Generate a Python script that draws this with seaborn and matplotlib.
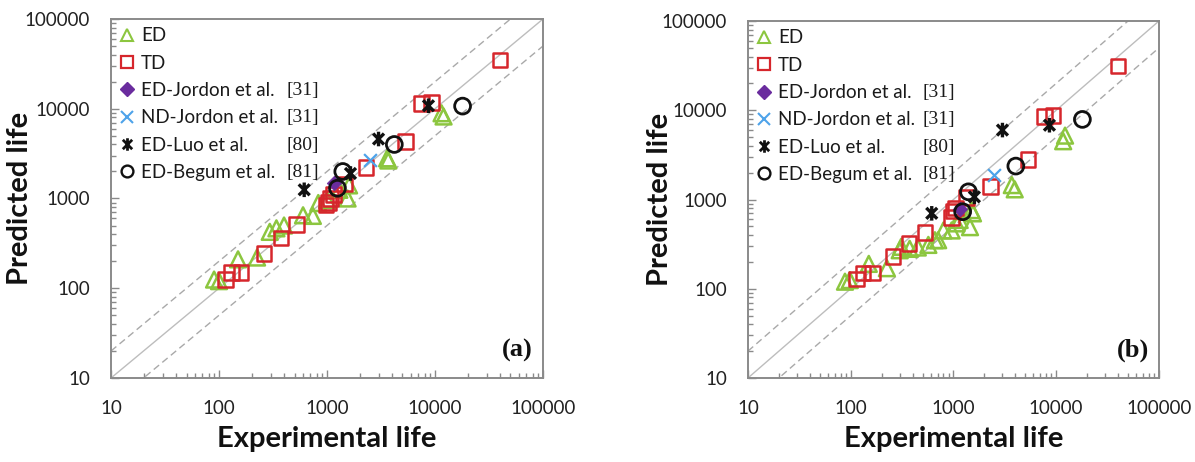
import numpy as np
import pandas as pd
import matplotlib
matplotlib.use("Agg")
import matplotlib.pyplot as plt
import seaborn as sns
from matplotlib.ticker import FixedLocator, LogLocator, FuncFormatter, NullFormatter
from matplotlib.lines import Line2D
from matplotlib.path import Path

sns.set_theme(style="white")
plt.rcParams["font.family"] = ["Lato", "DejaVu Sans"]

# ---- series labels ----
series_labels = ["ED", "TD", "ED-Jordon et al.", "ND-Jordon et al.", "ED-Luo et al.", "ED-Begum et al."]
series_refs = ["", "", "[31]", "[31]", "[80]", "[81]"]
panel_tags = ["(a)", "(b)"]
axis_ticks = [10, 100, 1000, 10000, 100000]

# ---- panel (a) ----
a_ed_exp = [90, 100, 150, 225, 295, 340, 400, 600, 740, 830, 1000, 1300, 1550, 1600, 3600, 3700, 11500, 12000]
a_ed_pred = [125, 120, 210, 220, 425, 465, 500, 650, 640, 890, 960, 1250, 1000, 1400, 2800, 2650, 8900, 8200]
a_td_exp = [115, 130, 160, 260, 375, 520, 980, 1030, 1080, 1150, 1450, 2300, 5300, 7500, 9300, 40000]
a_td_pred = [125, 150, 150, 245, 365, 515, 850, 900, 1000, 1100, 1450, 2200, 4300, 11500, 11700, 35000]
a_edj_exp = [1150]
a_edj_pred = [1500]
a_ndj_exp = [2500]
a_ndj_pred = [2700]
a_luo_exp = [615, 1650, 3000, 8700]
a_luo_pred = [1250, 1900, 4600, 10800]
a_beg_exp = [1250, 1400, 4200, 18000]
a_beg_pred = [1300, 2000, 4000, 10700]

# ---- panel (b) ----
b_ed_exp = [88, 98, 150, 225, 300, 310, 375, 450, 570, 660, 710, 800, 960, 1070, 1150, 1450, 1550, 1500, 3700, 3950, 11700, 12200]
b_ed_pred = [120, 125, 190, 170, 270, 295, 280, 290, 310, 350, 350, 450, 450, 540, 590, 490, 700, 760, 1450, 1300, 4500, 5200]
b_td_exp = [114, 132, 163, 259, 371, 527, 960, 990, 1050, 1340, 2300, 5300, 7700, 9300, 40000]
b_td_pred = [128, 150, 150, 230, 320, 425, 625, 740, 800, 1050, 1400, 2800, 8500, 8800, 31500]
b_edj_exp = [1150]
b_edj_pred = [780]
b_ndj_exp = [2500]
b_ndj_pred = [1900]
b_luo_exp = [615, 1600, 3000, 8600]
b_luo_pred = [700, 1070, 6000, 6800]
b_beg_exp = [1230, 1400, 4050, 18000]
b_beg_pred = [730, 1220, 2370, 7900]

panels = [
    [(a_ed_exp, a_ed_pred), (a_td_exp, a_td_pred), (a_edj_exp, a_edj_pred),
     (a_ndj_exp, a_ndj_pred), (a_luo_exp, a_luo_pred), (a_beg_exp, a_beg_pred)],
    [(b_ed_exp, b_ed_pred), (b_td_exp, b_td_pred), (b_edj_exp, b_edj_pred),
     (b_ndj_exp, b_ndj_pred), (b_luo_exp, b_luo_pred), (b_beg_exp, b_beg_pred)],
]

GREEN = "#8cc63f"
RED = "#d6262c"
PURPLE = "#6a2c9e"
LBLUE = "#4ea3ea"
BLACK = "#111111"

# star marker: an X crossed by a vertical bar
STAR = Path(
    [(0, -1), (0, 1), (-0.75, -0.75), (0.75, 0.75), (-0.75, 0.75), (0.75, -0.75)],
    [Path.MOVETO, Path.LINETO, Path.MOVETO, Path.LINETO, Path.MOVETO, Path.LINETO],
)

# marker styles for each series
styles = [
    dict(marker="^", s=130, facecolor="none", edgecolor=GREEN, linewidth=1.8),
    dict(marker="s", s=110, facecolor="none", edgecolor=RED, linewidth=1.8),
    dict(marker="D", s=55, color=PURPLE, edgecolor=PURPLE, linewidth=0.5),
    dict(marker="x", s=85, color=LBLUE, linewidth=1.6),
    dict(marker=STAR, s=110, facecolor="none", edgecolor=BLACK, linewidth=2.4),
    dict(marker="o", s=130, facecolor="none", edgecolor=BLACK, linewidth=2.0),
]
legend_handles = [
    Line2D([], [], ls="none", marker="^", ms=8.5, mfc="none", mec=GREEN, mew=1.5),
    Line2D([], [], ls="none", marker="s", ms=8, mfc="none", mec=RED, mew=1.6),
    Line2D([], [], ls="none", marker="D", ms=7, mfc=PURPLE, mec=PURPLE),
    Line2D([], [], ls="none", marker="x", ms=8, mec=LBLUE, mew=1.5),
    Line2D([], [], ls="none", marker=STAR, ms=9, mfc="none", mec=BLACK, mew=2.0),
    Line2D([], [], ls="none", marker="o", ms=8.5, mfc="none", mec=BLACK, mew=1.7),
]

fig = plt.figure(figsize=(11.95, 4.62), dpi=100)
positions = [[0.0929, 0.1818, 0.3615, 0.7771], [0.6259, 0.1818, 0.3439, 0.7727]]
ylabel_x = [-0.18, -0.182]

SPINE = "#8a8a8a"
legends = []
for pi, (pos, data) in enumerate(zip(positions, panels)):
    ax = fig.add_axes(pos)
    ax.set_xscale("log")
    ax.set_yscale("log")
    ax.set_xlim(10, 100000)
    ax.set_ylim(10, 100000)

    # 1:1 line and factor-of-two bands
    guide = np.array([10.0, 100000.0])
    ax.plot(guide, guide, color="#bdbdbd", lw=1.0, zorder=1)
    ax.plot(guide, guide * 2, color="#a9a9a9", lw=1.0, ls=(0, (5, 3)), zorder=1)
    ax.plot(guide, guide / 2, color="#a9a9a9", lw=1.0, ls=(0, (5, 3)), zorder=1)

    for (xs, ys), st in zip(data, styles):
        df = pd.DataFrame({"exp": xs, "pred": ys})
        sns.scatterplot(data=df, x="exp", y="pred", ax=ax, legend=False, zorder=3, **st)

    ax.set_xlabel("Experimental life", fontsize=21, fontweight="bold", color="#111111")
    ax.set_ylabel("Predicted life", fontsize=21, fontweight="bold", color="#111111")
    ax.xaxis.set_label_coords(0.5, -0.135)
    ax.yaxis.set_label_coords(ylabel_x[pi], 0.5)

    fmt = FuncFormatter(lambda v, p: f"{v:.0f}")
    for axis in (ax.xaxis, ax.yaxis):
        axis.set_major_locator(FixedLocator(axis_ticks))
        axis.set_major_formatter(fmt)
        axis.set_minor_locator(LogLocator(base=10, subs=np.arange(2, 10), numticks=20))
        axis.set_minor_formatter(NullFormatter())
    ax.tick_params(which="both", direction="in", top=False, right=False, left=True, bottom=True,
                   color=SPINE, width=1.0, labelsize=13.5, labelcolor="#222222")
    ax.tick_params(which="major", length=6)
    ax.tick_params(which="minor", length=3.5)
    ax.tick_params(axis="x", which="major", pad=16)
    ax.tick_params(axis="y", which="major", pad=15)
    for sp in ax.spines.values():
        sp.set_visible(True)
        sp.set_color(SPINE)
        sp.set_linewidth(1.4)

    ax.text(0.975, 0.045, panel_tags[pi], transform=ax.transAxes, ha="right", va="bottom",
            fontsize=19, fontweight="bold", family="Liberation Serif", color="#111111")

    leg = ax.legend(legend_handles, series_labels, loc="upper left", frameon=False,
                    fontsize=13.5, handlelength=0.8, handletextpad=0.35, labelspacing=0.55,
                    borderaxespad=0.15, borderpad=0.3)
    for t in leg.get_texts():
        t.set_color("#1a1a1a")
    legends.append(leg)

# reference numbers in a column to the right of the legend labels
fig.canvas.draw()
renderer = fig.canvas.get_renderer()
inv = fig.transFigure.inverted()
for leg in legends:
    texts = leg.get_texts()
    boxes = [t.get_window_extent(renderer) for t in texts]
    col_x = max(b.x1 for b in boxes) + 8
    for b, ref in zip(boxes, series_refs):
        if not ref:
            continue
        fx, fy = inv.transform((col_x, (b.y0 + b.y1) / 2))
        fig.text(fx, fy, ref, ha="left", va="center", fontsize=14,
                 family="Liberation Serif", color="#1a1a1a")

fig.savefig("out.png", dpi=100)
